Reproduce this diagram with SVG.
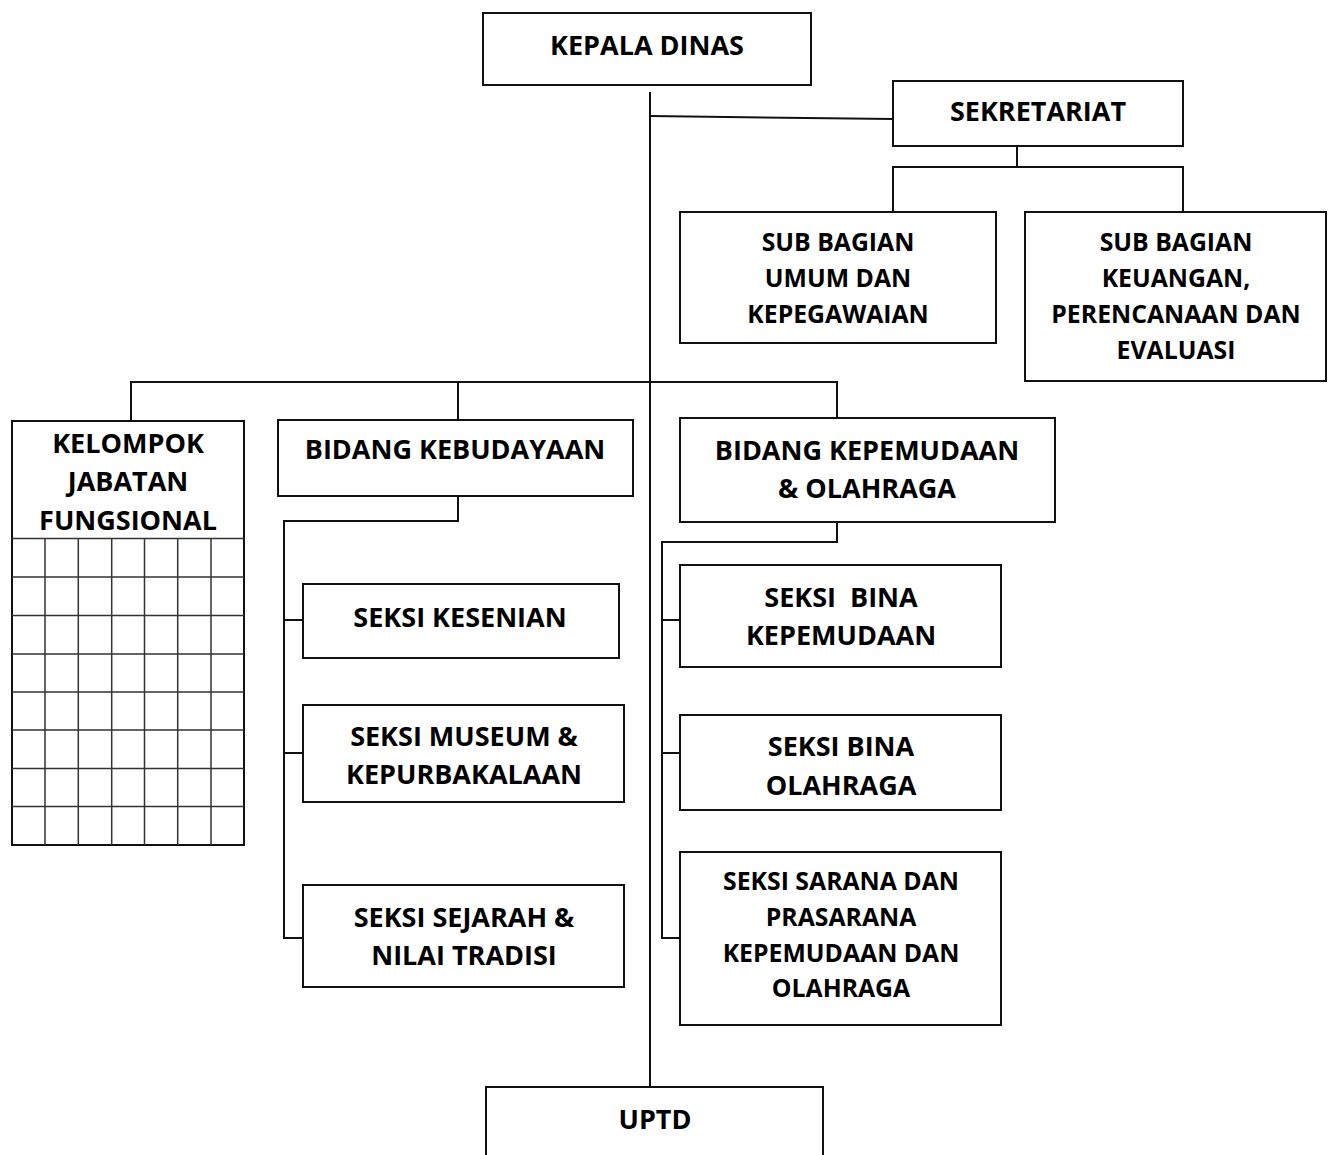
<svg xmlns="http://www.w3.org/2000/svg" width="1332" height="1155" viewBox="0 0 1332 1155">
<style>
.box{fill:#fff;stroke:#111;stroke-width:2}
.grid{fill:none;stroke:#333;stroke-width:1.5}
.t{font-family:"Open Sans","Noto Sans",sans-serif;font-weight:bold;font-size:27px;fill:#000;text-anchor:middle}
.s{font-family:"Open Sans","Noto Sans",sans-serif;font-weight:bold;font-size:24.8px;fill:#000;text-anchor:middle}
.c{fill:none;stroke:#111;stroke-width:2}
</style>
<rect width="1332" height="1155" fill="#fff"/>
<g id="connectors">
<path class="c" d="M650 92 V1087"/>
<path class="c" d="M650 116 L893 119"/>
<path class="c" d="M1017 146 V167 M893 212 V167 H1183 V212"/>
<path class="c" d="M131 421 V382 H837 V418 M458 382 V420"/>
<path class="c" d="M458 496 V521 H284 V938 H303 M284 620 H303 M284 753 H303"/>
<path class="c" d="M837 522 V542 H662 V938 H680 M662 620 H680 M662 753 H680"/>
</g>
<g id="kepala-dinas">
<rect class="box" x="483" y="13" width="328" height="72"/>
<text class="t" x="647" y="55">KEPALA DINAS</text>
</g>
<g id="sekretariat">
<rect class="box" x="893" y="81" width="290" height="65"/>
<text class="t" x="1038" y="121">SEKRETARIAT</text>
</g>
<g id="sub-bagian-umum">
<rect class="box" x="680" y="212" width="316" height="131"/>
<text class="s" x="838" y="251">SUB BAGIAN</text>
<text class="s" x="838" y="287">UMUM DAN</text>
<text class="s" x="838" y="323">KEPEGAWAIAN</text>
</g>
<g id="sub-bagian-keuangan">
<rect class="box" x="1025" y="212" width="301" height="169"/>
<text class="s" x="1176" y="251">SUB BAGIAN</text>
<text class="s" x="1176" y="287">KEUANGAN,</text>
<text class="s" x="1176" y="323">PERENCANAAN DAN</text>
<text class="s" x="1176" y="359">EVALUASI</text>
</g>
<g id="kelompok-jabatan-fungsional">
<rect class="box" x="12" y="421" width="232" height="424" stroke="#333"/>
<text class="t" x="128" y="453">KELOMPOK</text>
<text class="t" x="128" y="491">JABATAN</text>
<text class="t" x="128" y="530">FUNGSIONAL</text>
<path class="grid" d="M12 538.5 H244 M12 577 H244 M12 615.5 H244 M12 654 H244 M12 692 H244 M12 730 H244 M12 768.5 H244 M12 806.5 H244 M45 538 V845 M78.3 538 V845 M111.7 538 V845 M144.5 538 V845 M177.7 538 V845 M211 538 V845"/>
</g>
<g id="bidang-kebudayaan">
<rect class="box" x="278" y="420" width="355" height="76"/>
<text class="t" x="455" y="459">BIDANG KEBUDAYAAN</text>
</g>
<g id="bidang-kepemudaan">
<rect class="box" x="680" y="418" width="375" height="104"/>
<text class="t" x="867" y="460">BIDANG KEPEMUDAAN</text>
<text class="t" x="867" y="498">&amp; OLAHRAGA</text>
</g>
<g id="seksi-kesenian">
<rect class="box" x="303" y="584" width="316" height="74"/>
<text class="t" x="460" y="627">SEKSI KESENIAN</text>
</g>
<g id="seksi-museum">
<rect class="box" x="303" y="705" width="321" height="97"/>
<text class="t" x="464" y="746">SEKSI MUSEUM &amp;</text>
<text class="t" x="464" y="784">KEPURBAKALAAN</text>
</g>
<g id="seksi-sejarah">
<rect class="box" x="303" y="885" width="321" height="102"/>
<text class="t" x="464" y="927">SEKSI SEJARAH &amp;</text>
<text class="t" x="464" y="965">NILAI TRADISI</text>
</g>
<g id="seksi-bina-kepemudaan">
<rect class="box" x="680" y="565" width="321" height="102"/>
<text class="t" x="841" y="607" xml:space="preserve">SEKSI  BINA</text>
<text class="t" x="841" y="645">KEPEMUDAAN</text>
</g>
<g id="seksi-bina-olahraga">
<rect class="box" x="680" y="715" width="321" height="95"/>
<text class="t" x="841" y="756">SEKSI BINA</text>
<text class="t" x="841" y="795">OLAHRAGA</text>
</g>
<g id="seksi-sarana">
<rect class="box" x="680" y="852" width="321" height="173"/>
<text class="s" x="841" y="890">SEKSI SARANA DAN</text>
<text class="s" x="841" y="926">PRASARANA</text>
<text class="s" x="841" y="962">KEPEMUDAAN DAN</text>
<text class="s" x="841" y="997">OLAHRAGA</text>
</g>
<g id="uptd">
<rect class="box" x="486" y="1087" width="337" height="80"/>
<text class="t" x="655" y="1129">UPTD</text>
</g>
</svg>
